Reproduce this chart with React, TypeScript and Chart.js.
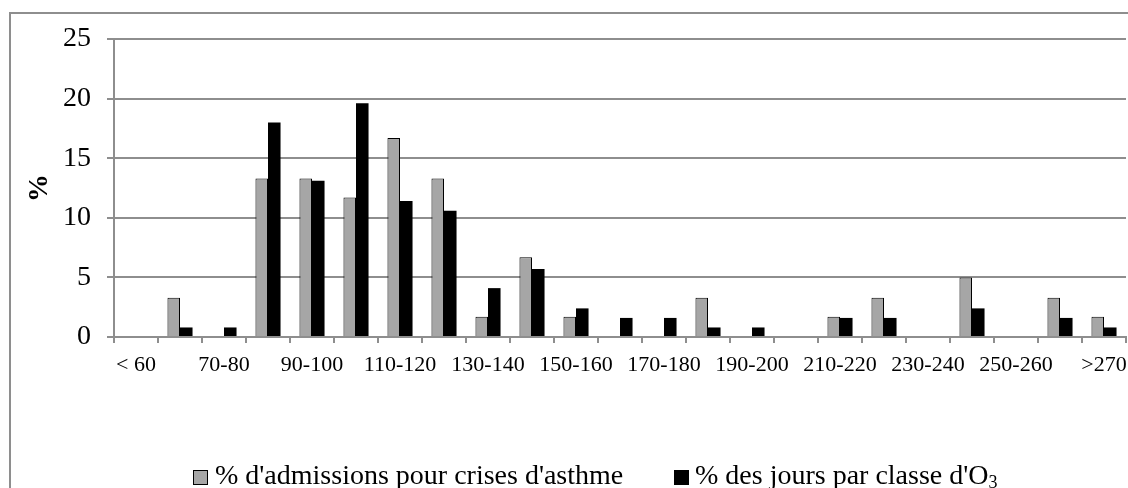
import React, { useEffect, useRef } from "react";
import { Chart, registerables } from "chart.js";

Chart.register(...registerables);

const categories = [
  "< 60", "60-70", "70-80", "80-90", "90-100", "100-110", "110-120", "120-130",
  "130-140", "140-150", "150-160", "160-170", "170-180", "180-190", "190-200",
  "200-210", "210-220", "220-230", "230-240", "240-250", "250-260", "260-270", ">270",
];
const admissions = [0, 3.3, 0, 13.3, 13.3, 11.7, 16.7, 13.3, 1.7, 6.7, 1.7, 0, 0, 3.3, 0, 0, 1.7, 3.3, 0, 5.0, 0, 3.3, 1.7];
const days = [0, 0.8, 0.8, 18.0, 13.1, 19.6, 11.4, 10.6, 4.1, 5.7, 2.4, 1.6, 1.6, 0.8, 0.8, 0, 1.6, 1.6, 0, 2.4, 0, 1.6, 0.8];
const seriesNames = ["% d'admissions pour crises d'asthme", "% des jours par classe d'O"];
const yTicks = { min: 0, max: 25, step: 5 };

const FONT = "'Liberation Serif', 'Times New Roman', serif";
const GRID = "#8e8e8e";

export default function App() {
  const ref = useRef<HTMLCanvasElement | null>(null);

  useEffect(() => {
    const canvas = ref.current;
    if (!canvas) return;
    const chart = new Chart(canvas, {
      type: "bar",
      data: {
        labels: categories,
        datasets: [
          {
            label: seriesNames[0],
            data: admissions,
            backgroundColor: "#a6a6a6",
            borderColor: "#000000",
            borderWidth: 1,
            categoryPercentage: 0.57,
            barPercentage: 1,
          },
          {
            label: seriesNames[1] + "3",
            data: days,
            backgroundColor: "#000000",
            borderColor: "#000000",
            borderWidth: 0,
            categoryPercentage: 0.57,
            barPercentage: 1,
          },
        ],
      },
      options: {
        responsive: false,
        animation: false,
        devicePixelRatio: 1,
        layout: { padding: { left: 0, right: 2, top: 39, bottom: 0 } },
        plugins: {
          legend: { display: false },
          tooltip: { enabled: false },
        },
        scales: {
          x: {
            offset: true,
            grid: {
              display: true,
              drawOnChartArea: false,
              drawTicks: true,
              tickLength: 6,
              color: GRID,
              lineWidth: 2,
              offset: true,
            },
            border: { display: true, color: GRID, width: 2 },
            ticks: {
              autoSkip: false,
              maxRotation: 0,
              minRotation: 0,
              padding: 9,
              color: "#000",
              font: { family: FONT, size: 22 },
              callback: (_v: any, index: number) => (index % 2 === 0 ? categories[index] : ""),
            },
            afterFit: (scale: any) => {
              scale.height = 151;
              scale.paddingLeft = 0;
              scale.paddingRight = 0;
            },
          },
          y: {
            min: yTicks.min,
            max: yTicks.max,
            grid: {
              color: GRID,
              lineWidth: 2,
              drawTicks: true,
              tickLength: 7,
            },
            border: { display: true, color: GRID, width: 2 },
            ticks: {
              stepSize: yTicks.step,
              padding: 16,
              color: "#000",
              font: { family: FONT, size: 28 },
            },
            title: {
              display: true,
              text: "%",
              color: "#000",
              font: { family: FONT, size: 28, weight: "bold" },
              padding: { top: 23, bottom: 0 },
            },
            afterFit: (scale: any) => {
              scale.width = 114;
              scale.paddingTop = 0;
              scale.paddingBottom = 0;
            },
          },
        },
      },
    } as any);
    return () => chart.destroy();
  }, []);

  const textStyle: React.CSSProperties = {
    position: "fixed",
    top: 461,
    fontFamily: FONT,
    fontSize: 28,
    lineHeight: "28px",
    whiteSpace: "nowrap",
    color: "#000",
  };

  return (
    <div>
      <div
        style={{
          position: "fixed",
          left: 9,
          top: 12,
          width: 1300,
          height: 700,
          border: `2px solid ${GRID}`,
          boxSizing: "border-box",
        }}
      />
      <canvas
        ref={ref}
        width={1128}
        height={488}
        style={{ position: "fixed", left: 0, top: 0, width: 1128, height: 488 }}
      />
      <div
        style={{
          position: "fixed",
          left: 193,
          top: 470,
          width: 13,
          height: 13,
          background: "#a6a6a6",
          border: "1px solid #000",
        }}
      />
      <div style={{ ...textStyle, left: 215 }}>{seriesNames[0]}</div>
      <div
        style={{
          position: "fixed",
          left: 674,
          top: 470,
          width: 15,
          height: 15,
          background: "#000",
        }}
      />
      <div style={{ ...textStyle, left: 695 }}>
        {seriesNames[1]}
        <sub style={{ fontSize: 18, verticalAlign: "-4px" }}>3</sub>
      </div>
    </div>
  );
}
